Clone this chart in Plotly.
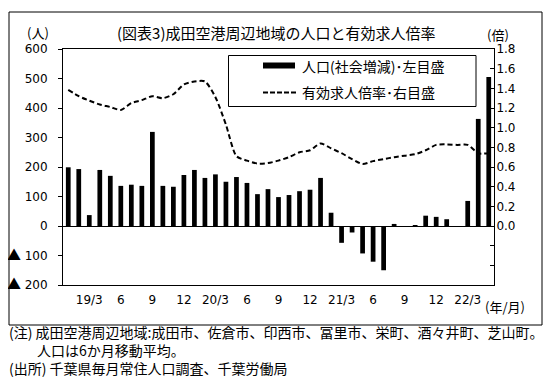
import plotly.graph_objects as go

# ---- data ----
months = [
    "2019/01", "2019/02", "2019/03", "2019/04", "2019/05", "2019/06", "2019/07", "2019/08",
    "2019/09", "2019/10", "2019/11", "2019/12", "2020/01", "2020/02", "2020/03", "2020/04",
    "2020/05", "2020/06", "2020/07", "2020/08", "2020/09", "2020/10", "2020/11", "2020/12",
    "2021/01", "2021/02", "2021/03", "2021/04", "2021/05", "2021/06", "2021/07", "2021/08",
    "2021/09", "2021/10", "2021/11", "2021/12", "2022/01", "2022/02", "2022/03", "2022/04",
    "2022/05",
]
population_change = [
    199, 193, 37, 190, 170, 136, 140, 136, 319, 136, 133, 173, 190, 163,
    175, 150, 166, 146, 108, 125, 98, 105, 118, 123, 163, 45, -57, -22,
    -93, -121, -150, 7, -3, 3, 35, 31, 23, -3, 85, 363, 505,
]
job_ratio = [
    1.385, 1.32, 1.275, 1.235, 1.21, 1.18, 1.25, 1.28, 1.32, 1.30, 1.34, 1.44, 1.47, 1.47,
    1.31, 1.03, 0.71, 0.665, 0.635, 0.64, 0.665, 0.70, 0.75, 0.77, 0.84, 0.79, 0.74, 0.68,
    0.63, 0.66, 0.68, 0.70, 0.715, 0.73, 0.77, 0.825, 0.83, 0.825, 0.825, 0.74, 0.74,
]
x_tick_months = ["2019/03", "2019/06", "2019/09", "2019/12", "2020/03", "2020/06", "2020/09",
                 "2020/12", "2021/03", "2021/06", "2021/09", "2021/12", "2022/03"]
x_tick_text = ["19/3", "6", "9", "12", "20/3", "6", "9", "12", "21/3", "6", "9", "12", "22/3"]
TRI = "<span style=\"font-family:'Noto Sans CJK JP';font-size:14px\">▲</span>"
left_tick_vals = [-200, -100, 0, 100, 200, 300, 400, 500, 600]
left_tick_text = [TRI + " 200", TRI + " 100", "0", "100", "200", "300", "400", "500", "600"]
right_tick_vals = [-0.6, -0.4, -0.2, 0.0, 0.2, 0.4, 0.6, 0.8, 1.0, 1.2, 1.4, 1.6, 1.8]
right_tick_text = ["", "", "", "0.0", "0.2", "0.4", "0.6", "0.8", "1.0", "1.2", "1.4", "1.6", "1.8"]

title_text = "(図表3)成田空港周辺地域の人口と有効求人倍率"
bar_name = "人口(社会増減)･左目盛"
line_name = "有効求人倍率･右目盛"
note1 = "(注) 成田空港周辺地域:成田市、佐倉市、印西市、冨里市、栄町、酒々井町、芝山町。"
note2 = "\u3000\u3000人口は6か月移動平均。"
note3 = "(出所) 千葉県毎月常住人口調査、千葉労働局"

NUM_FONT = "DejaVu Sans, Noto Sans CJK JP"
JP_FONT = "Noto Sans CJK JP, DejaVu Sans"

# the page body adds an 8px margin; lay the figure out in page coordinates
OFF = 8
W, H = 555 - OFF, 380 - OFF
L, R, T, B = 63 - OFF, 494 - OFF, 49 - OFF, 285 - OFF


def px(xp):
    return (xp - OFF - L) / (R - L)


def py(yp):
    return (B - (yp - OFF)) / (B - T)


fig = go.Figure()
fig.add_trace(go.Bar(
    x=months, y=population_change, name=bar_name,
    marker=dict(color="black", line=dict(width=0)),
    width=0.45, showlegend=False,
))
fig.add_trace(go.Scatter(
    x=months, y=job_ratio, name=line_name, yaxis="y2", mode="lines",
    line=dict(color="black", width=2, dash="5px,3px", shape="spline", smoothing=0.7),
    showlegend=False,
))

fig.update_layout(
    width=W, height=H,
    margin=dict(l=L, r=W - R, t=T, b=H - B, pad=0, autoexpand=False),
    paper_bgcolor="white", plot_bgcolor="white",
    font=dict(family=NUM_FONT, size=12, color="black"),
    xaxis=dict(
        type="category", categoryorder="array", categoryarray=months,
        range=[-0.5, len(months) - 0.5], automargin=False,
        tickmode="array", tickvals=x_tick_months, ticktext=x_tick_text,
        ticks="", showgrid=False, zeroline=False, ticklabelstandoff=4,
        showline=True, linecolor="black", linewidth=1, mirror=True,
        tickfont=dict(family=NUM_FONT, size=12),
    ),
    yaxis=dict(
        range=[-200, 600], tickmode="array", tickvals=left_tick_vals, ticktext=left_tick_text,
        automargin=False,
        ticks="outside", ticklen=4, tickcolor="black", ticklabelstandoff=8,
        showgrid=False, zeroline=True, zerolinecolor="black", zerolinewidth=1,
        showline=True, linecolor="black", linewidth=1,
        tickfont=dict(family=NUM_FONT, size=12),
    ),
    yaxis2=dict(
        range=[-0.6, 1.8], overlaying="y", side="right", automargin=False,
        tickmode="array", tickvals=right_tick_vals, ticktext=right_tick_text,
        ticks="inside", ticklen=4, tickcolor="black", ticklabelstandoff=-1,
        showgrid=False, zeroline=False,
        showline=True, linecolor="black", linewidth=1,
        tickfont=dict(family=NUM_FONT, size=12),
    ),
)

shapes = [
    # outer frame
    dict(type="rect", xref="paper", yref="paper",
         x0=px(9), x1=px(542), y0=py(325), y1=py(12),
         line=dict(color="black", width=1), fillcolor="rgba(0,0,0,0)", layer="above"),
    # legend box
    dict(type="rect", xref="paper", yref="paper",
         x0=px(228.5), x1=px(476), y0=py(106.5), y1=py(55.5),
         line=dict(color="black", width=1), fillcolor="white", layer="above"),
    # legend symbols
    dict(type="line", xref="paper", yref="paper",
         x0=px(263), x1=px(295), y0=py(65.5), y1=py(65.5),
         line=dict(color="black", width=6), layer="above"),
    dict(type="line", xref="paper", yref="paper",
         x0=px(263), x1=px(298), y0=py(92.5), y1=py(92.5),
         line=dict(color="black", width=2, dash="5px,2px"), layer="above"),
]

annotations = [
    dict(text=title_text, x=px(276), y=py(33), font=dict(family=JP_FONT, size=15)),
    dict(text="(人)", x=px(38), y=py(33), font=dict(family=JP_FONT, size=13)),
    dict(text="(倍)", x=px(498), y=py(35), font=dict(family=JP_FONT, size=13)),
    dict(text="(年/月)", x=px(505), y=py(306), font=dict(family=JP_FONT, size=13)),
    dict(text=bar_name, x=px(300), y=py(65.5), xanchor="left",
         font=dict(family=JP_FONT, size=14)),
    dict(text=line_name, x=px(300), y=py(92.5), xanchor="left",
         font=dict(family=JP_FONT, size=14)),
    dict(text="<br>".join([note1, note2, note3]), x=px(8), y=py(350), xanchor="left",
         align="left", borderpad=0, font=dict(family=JP_FONT, size=14)),
]
for a in annotations:
    a.setdefault("xanchor", "center")
    a.update(xref="paper", yref="paper", yanchor="middle", showarrow=False)

fig.update_layout(shapes=shapes, annotations=annotations)
fig.write_html("out.html")
